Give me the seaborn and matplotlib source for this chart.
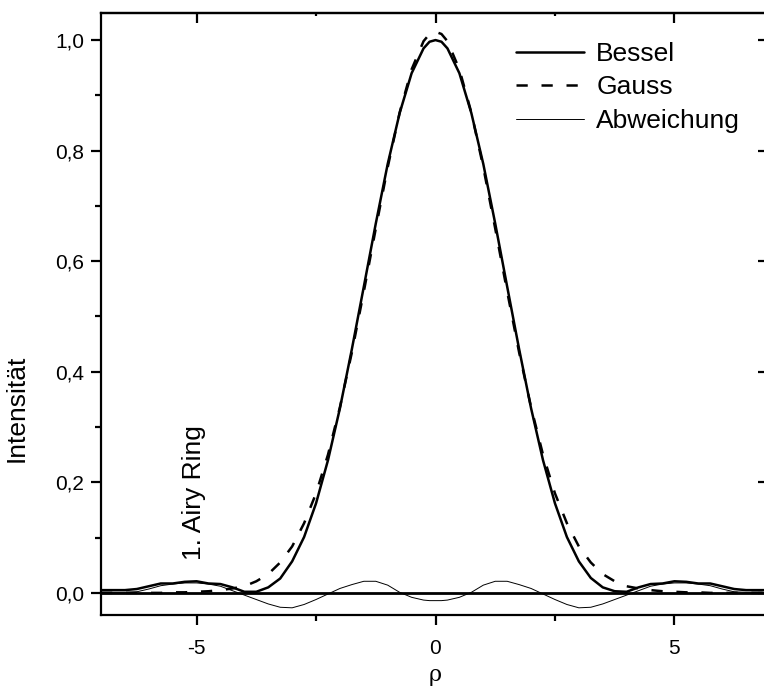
import numpy as np
import pandas as pd
import matplotlib
matplotlib.use("Agg")
import matplotlib.pyplot as plt
import seaborn as sns
from matplotlib.ticker import FixedLocator, FuncFormatter

sns.set_style("ticks")
plt.rcParams['font.family'] = ['Liberation Sans', 'DejaVu Sans']
plt.rcParams['text.color'] = 'black'
plt.rcParams['axes.labelcolor'] = 'black'
plt.rcParams['xtick.color'] = 'black'
plt.rcParams['ytick.color'] = 'black'
plt.rcParams['axes.edgecolor'] = 'black'

# ---- data ----
rho = [-7.0, -6.75, -6.5, -6.25, -6.0, -5.75, -5.5, -5.25, -5.0, -4.75, -4.5, -4.25,
       -4.0, -3.75, -3.5, -3.25, -3.0, -2.75, -2.5, -2.25, -2.0, -1.75, -1.5, -1.25,
       -1.0, -0.75, -0.5, -0.25, -0.125, 0.0, 0.125, 0.25, 0.5, 0.75, 1.0, 1.25, 1.5, 1.75, 2.0,
       2.25, 2.5, 2.75, 3.0, 3.25, 3.5, 3.75, 4.0, 4.25, 4.5, 4.75, 5.0, 5.25, 5.5,
       5.75, 6.0, 6.25, 6.5, 6.75, 7.0]

bessel = [0.005, 0.005, 0.005, 0.007, 0.012, 0.017, 0.017, 0.020, 0.021, 0.017, 0.016, 0.010,
          0.002, 0.002, 0.010, 0.026, 0.057, 0.101, 0.162, 0.240, 0.334, 0.441, 0.554, 0.668,
          0.776, 0.868, 0.940, 0.985, 0.997, 1.000, 0.997, 0.985, 0.940, 0.868, 0.776, 0.668, 0.554, 0.441, 0.334,
          0.240, 0.162, 0.101, 0.057, 0.027, 0.010, 0.003, 0.002, 0.010, 0.016, 0.017, 0.021, 0.020, 0.017,
          0.017, 0.012, 0.007, 0.005, 0.005, 0.005]

gauss = [0.000, 0.000, 0.000, 0.000, 0.000, 0.000, 0.001, 0.001, 0.002, 0.003, 0.005, 0.008,
         0.012, 0.021, 0.034, 0.055, 0.084, 0.126, 0.180, 0.250, 0.336, 0.435, 0.545, 0.659,
         0.770, 0.869, 0.947, 0.998, 1.011, 1.015, 1.011, 0.998, 0.947, 0.869, 0.770, 0.659, 0.545, 0.435, 0.336,
         0.250, 0.180, 0.126, 0.084, 0.055, 0.034, 0.021, 0.012, 0.008, 0.005, 0.003, 0.002, 0.001, 0.001,
         0.000, 0.000, 0.000, 0.000, 0.000, 0.000]

abweichung = [0.001, 0.001, 0.001, 0.002, 0.007, 0.013, 0.016, 0.018, 0.018, 0.016, 0.012, 0.004,
              -0.004, -0.012, -0.020, -0.026, -0.027, -0.021, -0.012, -0.002, 0.008, 0.015, 0.021, 0.021,
              0.014, 0.001, -0.008, -0.013, -0.014, -0.014, -0.014, -0.013, -0.008, 0.001, 0.014, 0.021, 0.021, 0.015, 0.008,
              -0.002, -0.012, -0.021, -0.027, -0.026, -0.020, -0.012, -0.004, 0.004, 0.012, 0.016, 0.018, 0.018, 0.016,
              0.013, 0.007, 0.002, 0.001, 0.001, 0.001]

x_ticks = [-5, 0, 5]
y_ticks = [0.0, 0.2, 0.4, 0.6, 0.8, 1.0]

df = pd.DataFrame({"rho": rho, "Bessel": bessel, "Gauss": gauss, "Abweichung": abweichung})

fig = plt.figure(figsize=(7.64, 6.93), dpi=100)
ax = fig.add_axes([101 / 764, 1 - 615 / 693, (770 - 101) / 764, (615 - 13) / 693])

lw_thick = 1.8
sns.lineplot(data=df, x="rho", y="Bessel", ax=ax, color="black", lw=lw_thick, label="Bessel")
sns.lineplot(data=df, x="rho", y="Gauss", ax=ax, color="black", lw=lw_thick, label="Gauss")
ax.lines[-1].set_dashes((4.5, 5.5))
sns.lineplot(data=df, x="rho", y="Abweichung", ax=ax, color="black", lw=0.7, label="Abweichung")
ax.axhline(0, color="black", lw=2.0, zorder=1)

ax.set_xlim(-7.0, 7.0)
ax.set_ylim(-0.040, 1.049)

ax.xaxis.set_major_locator(FixedLocator(x_ticks))
ax.xaxis.set_minor_locator(FixedLocator([-2.5, 2.5]))
ax.yaxis.set_major_locator(FixedLocator(y_ticks))
ax.yaxis.set_minor_locator(FixedLocator([0.1, 0.3, 0.5, 0.7, 0.9]))
ax.yaxis.set_major_formatter(FuncFormatter(lambda v, p: f"{v:.1f}".replace(".", ",")))
ax.xaxis.set_major_formatter(FuncFormatter(lambda v, p: f"{v:g}"))

for s in ax.spines.values():
    s.set_linewidth(1.6)
    s.set_visible(True)
ax.tick_params(axis="both", which="major", direction="out", length=7, width=1.6,
               labelsize=15)
ax.tick_params(axis="x", which="major", pad=10)
ax.tick_params(axis="y", which="major", pad=5)
ax.tick_params(axis="both", which="minor", direction="out", length=4.5, width=1.6)

# inward ticks on top/right
axt = ax.secondary_xaxis("top")
axt.xaxis.set_major_locator(FixedLocator(x_ticks))
axt.xaxis.set_minor_locator(FixedLocator([-2.5, 2.5]))
axt.tick_params(which="major", direction="in", length=7, width=1.6, labeltop=False)
axt.tick_params(which="minor", direction="in", length=2, width=1.6)
axt.spines["top"].set_linewidth(1.6)
axr = ax.secondary_yaxis("right")
axr.yaxis.set_major_locator(FixedLocator(y_ticks))
axr.yaxis.set_minor_locator(FixedLocator([]))
axr.tick_params(which="major", direction="in", length=9, width=1.6, labelright=False)
axr.spines["right"].set_linewidth(1.6)

ax.set_xlabel("ρ", fontsize=16, family=["DejaVu Serif", "DejaVu Sans"])
ax.xaxis.set_label_coords(0.5, -0.082)
ax.set_ylabel("Intensität", fontsize=19)
ax.yaxis.set_label_coords(-0.108, 0.344)

ax.text(-5.05, 0.06, "1. Airy Ring", rotation=90, fontsize=19, ha="center", va="bottom")

leg = ax.legend(loc="upper left", bbox_to_anchor=(0.62, 0.952), frameon=False,
                fontsize=19, handlelength=2.6, handletextpad=0.45, labelspacing=0.36,
                borderpad=0, borderaxespad=0)

fig.savefig("out.png", dpi=100)
